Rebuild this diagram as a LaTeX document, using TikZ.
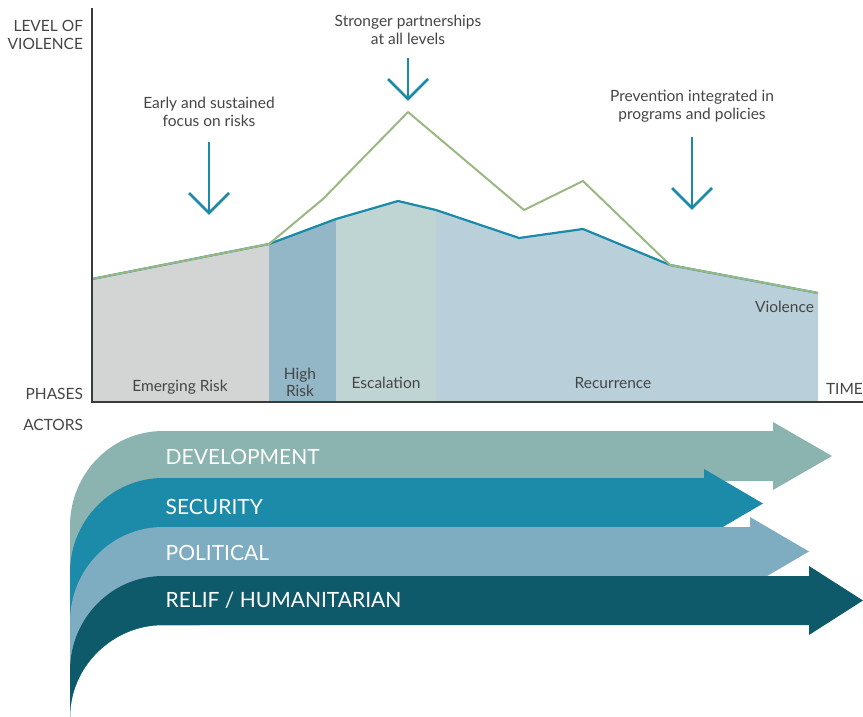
\documentclass[tikz,border=0pt]{standalone}
\usepackage{fontspec}
\setmainfont{Lato}
\definecolor{labelgray}{HTML}{454545}
\definecolor{axisgray}{HTML}{3A3A3A}
\definecolor{emerg}{HTML}{D3D5D4}
\definecolor{highrisk}{HTML}{93B7C7}
\definecolor{escal}{HTML}{BFD5D3}
\definecolor{recur}{HTML}{B9D0DB}
\definecolor{vblue}{HTML}{1A8AA8}
\definecolor{vgreen}{HTML}{9BB783}
\definecolor{devc}{HTML}{8BB3B0}
\definecolor{secc}{HTML}{1C8AA9}
\definecolor{polc}{HTML}{7EADC2}
\definecolor{relc}{HTML}{0E5A6B}
\begin{document}
\begin{tikzpicture}[x=1pt,y=-1pt,
  every node/.style={inner sep=0pt,outer sep=0pt},
  lbl/.style={text=labelgray,font=\fontsize{15.5}{18}\selectfont,anchor=base},
  lblr/.style={lbl,anchor=base east},
  lbll/.style={lbl,anchor=base west},
  actor/.style={text=white,font=\fontsize{21}{24}\selectfont,anchor=base west},
  downarrow/.style={draw=vblue,line width=2.7pt},
  axisline/.style={draw=axisgray,line width=2.5pt},
  band/.style={draw=none}]
\useasboundingbox (0,0) rectangle (863,717);

% phase areas
\fill[emerg] (92,402) -- (92,279) -- (269,244) -- (269,402) -- cycle;
\fill[highrisk] (269,402) -- (269,244) -- (336,219) -- (336,402) -- cycle;
\fill[escal] (336,402) -- (336,219) -- (398,201) -- (436,210) -- (436,402) -- cycle;
\fill[recur] (436,402) -- (436,210) -- (519,238) -- (583,229) -- (670,265) -- (818,293) -- (818,402) -- cycle;

% lines
\coordinate (v0) at (92,279);
\coordinate (v1) at (269,244);
\coordinate (v2) at (336,219);
\coordinate (v3) at (398,201);
\coordinate (v4) at (436,210);
\coordinate (v5) at (519,238);
\coordinate (v6) at (583,229);
\coordinate (v7) at (670,265);
\coordinate (v8) at (818,293);
\coordinate (g2) at (323,199);
\coordinate (g3) at (408,112);
\coordinate (g4) at (524,210);
\coordinate (g5) at (583,181);
\draw[vblue,line width=2.2pt,line join=round] (v0) -- (v1) -- (v2) -- (v3) -- (v4) -- (v5) -- (v6) -- (v7) -- (v8);
\draw[vgreen,line width=2pt,line join=round] (v0) -- (v1) -- (g2) -- (g3) -- (g4) -- (g5) -- (v7) -- (v8);

% axes
\coordinate (ytop) at (92,8);
\coordinate (orig) at (92,402);
\coordinate (xend) at (863,402);
\draw[axisline] (ytop) -- (orig) -- (xend);

% down arrows
\coordinate (a1s) at (209,142); \coordinate (a1t) at (209,213);
\coordinate (a1l) at (189,193); \coordinate (a1r) at (229,193);
\draw[downarrow] (a1s) -- (a1t);
\draw[downarrow] (a1l) -- (a1t) -- (a1r);
\coordinate (a2s) at (408,58); \coordinate (a2t) at (408,99);
\coordinate (a2l) at (388,79); \coordinate (a2r) at (428,79);
\draw[downarrow] (a2s) -- (a2t);
\draw[downarrow] (a2l) -- (a2t) -- (a2r);
\coordinate (a3s) at (692,137); \coordinate (a3t) at (692,208);
\coordinate (a3l) at (672,188); \coordinate (a3r) at (712,188);
\draw[downarrow] (a3s) -- (a3t);
\draw[downarrow] (a3l) -- (a3t) -- (a3r);

% labels
\node[lblr] (lv1) at (83,31.7) {LEVEL OF};
\node[lblr] (lv2) at (83,49.3) {VIOLENCE};
\node[lbl] (e1) at (209,108.3) {Early and sustained};
\node[lbl] (e2) at (209,126.7) {focus on risks};
\node[lbl] (s1) at (408,26.7) {Stronger partnerships};
\node[lbl] (s2) at (408,44.3) {at all levels};
\node[lbl] (p1) at (692,101.7) {Prevention integrated in};
\node[lbl] (p2) at (692,119.3) {programs and policies};
\node[lblr] (viol) at (814,312.3) {Violence};
\node[lbl] (ph1) at (180,391) {Emerging Risk};
\node[lbl] (ph2a) at (300,379) {High};
\node[lbl] (ph2b) at (300,396.7) {Risk};
\node[lbl] (ph3) at (386,388.3) {Escalation};
\node[lbl] (ph4) at (613,388.3) {Recurrence};
\node[lblr] (phases) at (83,399.3) {PHASES};
\node[lbll] (time) at (826,394.3) {TIME};
\node[lblr] (actors) at (83,430) {ACTORS};

% actor bands
\fill[devc] (70,717) -- (70,526) .. controls (70,473) and (112,431) .. (163,431)
  -- (773,431) -- (773,422) -- (832,456) -- (773,490) -- (773,481) -- (200,481) -- (200,625)
  -- (163,625) .. controls (112,625) and (70,667) .. (70,717) -- cycle;
\fill[secc] (70,717) -- (70,573) .. controls (70,520) and (112,478) .. (163,478)
  -- (704,478) -- (704,469) -- (763,503.5) -- (704,538) -- (704,529) -- (200,529) -- (200,625)
  -- (163,625) .. controls (112,625) and (70,667) .. (70,717) -- cycle;
\fill[polc] (70,717) -- (70,622) .. controls (70,569) and (112,527) .. (163,527)
  -- (750,527) -- (750,517) -- (809,551.5) -- (750,586) -- (750,576) -- (200,576) -- (200,625)
  -- (163,625) .. controls (112,625) and (70,667) .. (70,717) -- cycle;
\fill[relc] (70,717) -- (70,671) .. controls (70,618) and (112,576) .. (163,576)
  -- (809,576) -- (809,566) -- (863,600.5) -- (809,635) -- (809,625)
  -- (163,625) .. controls (112,625) and (70,667) .. (70,717) -- cycle;

\node[actor] (dev) at (165.7,464.3) {DEVELOPMENT};
\node[actor] (sec) at (165.7,514.3) {SECURITY};
\node[actor] (pol) at (165.7,560) {POLITICAL};
\node[actor] (rel) at (165.7,607.7) {RELIF / HUMANITARIAN};
\end{tikzpicture}
\end{document}
